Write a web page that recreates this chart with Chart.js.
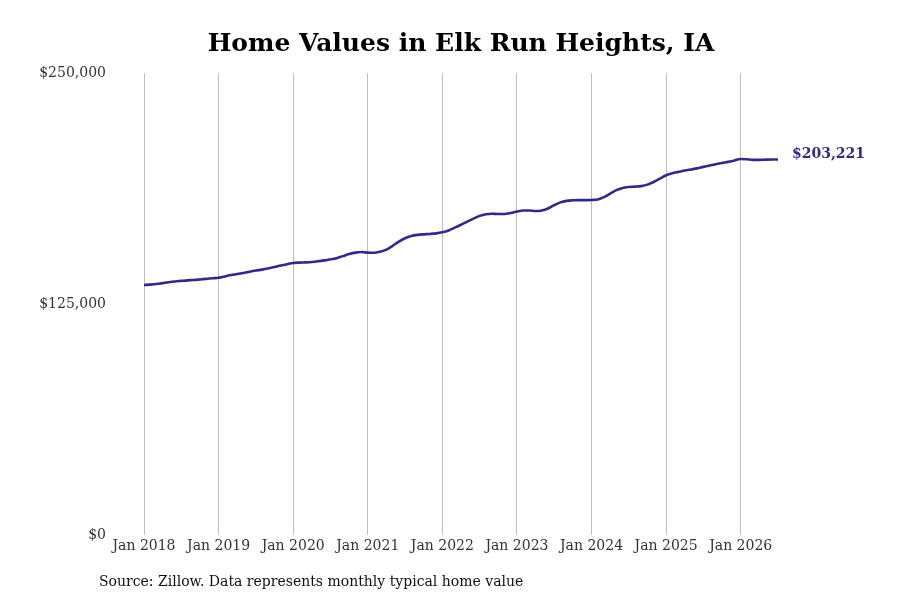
<!DOCTYPE html>
<html lang="en">
<head>
  <meta charset="UTF-8" />
  <title>Home Values in Elk Run Heights, IA</title>
  <script src="https://cdn.jsdelivr.net/npm/chart.js"></script>
  <style>
    html, body { margin: 0; padding: 0; background: #fff; }
    #wrap { width: 900px; height: 600px; position: relative; }
  </style>
</head>
<body>
  <div id="wrap"><canvas id="homeChart" width="900" height="600"></canvas></div>
  <script>
    // monthly typical home value, Jan 2018 .. Jul 2026
    const values2018 = [135300, 135500, 135800, 136300, 136800, 137200, 137500, 137800, 138000, 138300, 138600, 138900];
    const values2019 = [139200, 139900, 140700, 141200, 141800, 142500, 143100, 143600, 144300, 145000, 145800, 146500];
    const values2020 = [147200, 147400, 147500, 147700, 148100, 148600, 149200, 149800, 150900, 152000, 152800, 153100];
    const values2021 = [152800, 152700, 153300, 154400, 156500, 158800, 160600, 161800, 162400, 162700, 162900, 163200];
    const values2022 = [163800, 164800, 166300, 167900, 169600, 171200, 172700, 173600, 173800, 173700, 173700, 174200];
    const values2023 = [175000, 175600, 175600, 175300, 175600, 176700, 178500, 180000, 180800, 181100, 181200, 181200];
    const values2024 = [181300, 181600, 182800, 184700, 186600, 187800, 188300, 188500, 188800, 189600, 191000, 192800];
    const values2025 = [194700, 195800, 196500, 197200, 197800, 198400, 199200, 199900, 200600, 201300, 201900, 202700];
    const values2026 = [203500, 203300, 203000, 203000, 203100, 203200, 203221];

    const years = [2018, 2019, 2020, 2021, 2022, 2023, 2024, 2025, 2026];
    const tickLabels = ['Jan 2018', 'Jan 2019', 'Jan 2020', 'Jan 2021', 'Jan 2022', 'Jan 2023', 'Jan 2024', 'Jan 2025', 'Jan 2026'];
    const yTicks = [0, 125000, 250000];

    const values = [].concat(values2018, values2019, values2020, values2021, values2022,
                             values2023, values2024, values2025, values2026);
    const monthNames = ['Jan', 'Feb', 'Mar', 'Apr', 'May', 'Jun', 'Jul', 'Aug', 'Sep', 'Oct', 'Nov', 'Dec'];
    const months = [];
    years.forEach(y => monthNames.forEach(m => months.push(m + ' ' + y)));
    months.length = values.length;

    const lineColor = '#302a8a';
    const serif = "'DejaVu Serif', serif";
    const money = v => '$' + v.toLocaleString('en-US');

    // end label + source note
    const extras = {
      id: 'extras',
      afterDatasetsDraw(chart) {
        const ctx = chart.ctx;
        const meta = chart.getDatasetMeta(0);
        const last = meta.data[meta.data.length - 1];
        ctx.save();
        ctx.fillStyle = lineColor;
        ctx.font = "bold 14px " + serif;
        ctx.textAlign = 'left';
        ctx.textBaseline = 'middle';
        ctx.fillText(money(values[values.length - 1]), last.x + 14, last.y - 5);
        ctx.fillStyle = '#111';
        ctx.font = "14px " + serif;
        ctx.fillText('Source: Zillow. Data represents monthly typical home value', 99, 582);
        ctx.restore();
      }
    };

    new Chart(document.getElementById('homeChart').getContext('2d'), {
      type: 'line',
      data: {
        labels: months,
        datasets: [{
          data: values,
          borderColor: lineColor,
          borderWidth: 2.6,
          pointRadius: 0,
          tension: 0.4,
          cubicInterpolationMode: 'monotone',
          fill: false
        }]
      },
      options: {
        responsive: false,
        animation: false,
        layout: { padding: { left: 0, right: 122, top: 0, bottom: 0 } },
        plugins: {
          legend: { display: false },
          tooltip: { enabled: false },
          title: {
            display: true,
            text: 'Home Values in Elk Run Heights, IA',
            fullSize: false,
            color: '#000',
            font: { family: serif, size: 25, weight: 'bold' },
            padding: { top: 29, bottom: 14 }
          }
        },
        scales: {
          x: {
            type: 'category',
            offset: false,
            border: { display: false },
            grid: {
              drawTicks: false,
              color: c => (c.index % 12 === 0 ? '#bdbdbd' : 'rgba(0,0,0,0)'),
              lineWidth: 1
            },
            ticks: {
              autoSkip: false,
              maxRotation: 0,
              padding: 3,
              color: '#333',
              font: { family: serif, size: 14 },
              callback: (v, i) => (i % 12 === 0 ? tickLabels[i / 12] : '')
            },
            afterFit: s => { s.height = 65; }
          },
          y: {
            min: 0,
            max: 250000,
            border: { display: false },
            grid: { display: false, drawTicks: false },
            afterBuildTicks: s => { s.ticks = yTicks.map(v => ({ value: v })); },
            ticks: {
              padding: 38,
              color: '#333',
              font: { family: serif, size: 14 },
              callback: v => money(v)
            },
            afterFit: s => { s.width = 144; }
          }
        }
      },
      plugins: [extras]
    });
  </script>
</body>
</html>
